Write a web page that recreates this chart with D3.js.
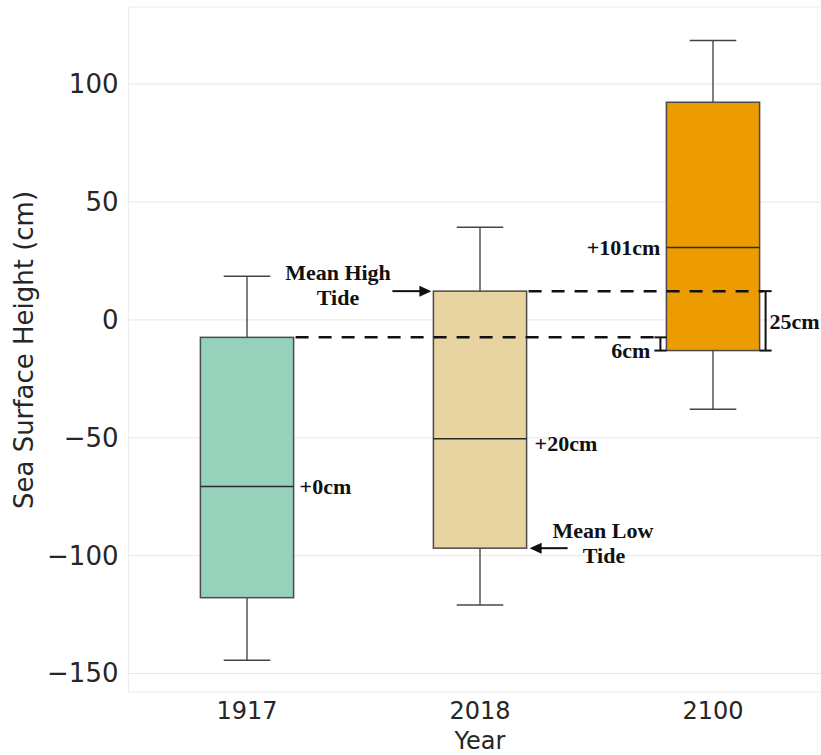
<!DOCTYPE html>
<html>
<head>
<meta charset="utf-8">
<script src="https://cdn.jsdelivr.net/npm/d3@7"></script>
<style>
  html, body { margin: 0; padding: 0; background: #fff; }
  svg { display: block; }
</style>
</head>
<body>
<svg id="chart" width="821" height="755"></svg>
<script>
// Yearly sea surface height distributions (cm)
const years = ["1917", "2018", "2100"];
const whiskerLow  = [-144.3, -120.9, -37.9];
const q1          = [-117.8, -96.8, -13.0];
const median      = [-70.6, -50.4, 30.7];
const q3          = [-7.4, 12.2, 92.3];
const whiskerHigh = [18.5, 39.3, 118.5];
const boxColors   = ["#95d1bb", "#e8d4a1", "#ec9c00"];
const yTicks      = [-150, -100, -50, 0, 50, 100];

const svg = d3.select("#chart");
const plot = { left: 128.5, right: 829.5, top: 7, bottom: 692 };

const x = d3.scaleBand().domain(years).range([130.5, 829.5]).padding(0);
const y = d3.scaleLinear().domain([-157.8, 132.7]).range([plot.bottom, plot.top]);
const boxW = x.bandwidth() * 0.4;
const capW = boxW / 2;
const cx = i => x(years[i]) + x.bandwidth() / 2;

// frame and grid
svg.append("rect")
  .attr("x", plot.left).attr("y", plot.top)
  .attr("width", plot.right - plot.left).attr("height", plot.bottom - plot.top)
  .attr("fill", "none").attr("stroke", "#ececec").attr("stroke-width", 1);

svg.append("g").selectAll("line").data(yTicks).join("line")
  .attr("x1", plot.left).attr("x2", plot.right)
  .attr("y1", d => y(d)).attr("y2", d => y(d))
  .attr("stroke", "#e6e6e6").attr("stroke-width", 1);

// axes
const yAxis = svg.append("g")
  .attr("transform", `translate(${plot.left - 8},0)`)
  .call(d3.axisLeft(y).tickValues(yTicks).tickSize(0).tickPadding(2).tickFormat(d3.format("d")));
yAxis.select(".domain").remove();
yAxis.selectAll("text")
  .attr("font-family", "DejaVu Sans, sans-serif").attr("font-size", 26).attr("fill", "#262626");

const xAxis = svg.append("g")
  .attr("transform", `translate(0,${plot.bottom})`)
  .call(d3.axisBottom(x).tickSize(0).tickPadding(10));
xAxis.select(".domain").remove();
xAxis.selectAll("text")
  .attr("font-family", "DejaVu Sans, sans-serif").attr("font-size", 24).attr("fill", "#262626");

svg.append("text")
  .attr("transform", "translate(33,350) rotate(-90)")
  .attr("text-anchor", "middle")
  .attr("font-family", "DejaVu Sans, sans-serif").attr("font-size", 26).attr("fill", "#262626")
  .text("Sea Surface Height (cm)");

svg.append("text")
  .attr("x", cx(1)).attr("y", 749)
  .attr("text-anchor", "middle")
  .attr("font-family", "DejaVu Sans, sans-serif").attr("font-size", 24).attr("fill", "#262626")
  .text("Year");

// boxes
const idx = d3.range(years.length);
const boxes = svg.append("g").selectAll("g").data(idx).join("g");

boxes.append("line")
  .attr("x1", cx).attr("x2", cx)
  .attr("y1", i => y(q3[i])).attr("y2", i => y(whiskerHigh[i]))
  .attr("stroke", "#555").attr("stroke-width", 1.5);
boxes.append("line")
  .attr("x1", cx).attr("x2", cx)
  .attr("y1", i => y(q1[i])).attr("y2", i => y(whiskerLow[i]))
  .attr("stroke", "#555").attr("stroke-width", 1.5);
boxes.append("line")
  .attr("x1", i => cx(i) - capW / 2).attr("x2", i => cx(i) + capW / 2)
  .attr("y1", i => y(whiskerHigh[i])).attr("y2", i => y(whiskerHigh[i]))
  .attr("stroke", "#444").attr("stroke-width", 1.5);
boxes.append("line")
  .attr("x1", i => cx(i) - capW / 2).attr("x2", i => cx(i) + capW / 2)
  .attr("y1", i => y(whiskerLow[i])).attr("y2", i => y(whiskerLow[i]))
  .attr("stroke", "#444").attr("stroke-width", 1.5);
boxes.append("rect")
  .attr("x", i => cx(i) - boxW / 2).attr("width", boxW)
  .attr("y", i => y(q3[i])).attr("height", i => y(q1[i]) - y(q3[i]))
  .attr("fill", i => boxColors[i]).attr("stroke", "#4a4a4a").attr("stroke-width", 1.5);
boxes.append("line")
  .attr("x1", i => cx(i) - boxW / 2).attr("x2", i => cx(i) + boxW / 2)
  .attr("y1", i => y(median[i])).attr("y2", i => y(median[i]))
  .attr("stroke", "#2b2b2b").attr("stroke-width", 1.5);

// annotations
const serif = "Liberation Serif, Times New Roman, serif";
const ann = svg.append("g")
  .attr("font-family", serif).attr("font-weight", "bold").attr("font-size", 22).attr("fill", "#111");

const shift = i => Math.round(median[i] - median[0]);
ann.append("text").attr("x", cx(0) + boxW / 2 + 6).attr("y", y(median[0]) + 8)
  .text(`+${shift(0)}cm`);
ann.append("text").attr("x", cx(1) + boxW / 2 + 8).attr("y", y(median[1]) + 12)
  .text(`+${shift(1)}cm`);
ann.append("text").attr("x", cx(2) - boxW / 2 - 6).attr("y", y(median[2]) + 7)
  .attr("text-anchor", "end").text(`+${shift(2)}cm`);

// dashed reference levels
const dash = svg.append("g").attr("stroke", "#111").attr("stroke-width", 2.5)
  .attr("stroke-dasharray", "13,10");
dash.append("line")
  .attr("x1", cx(0) + boxW / 2 + 2).attr("x2", cx(2) - boxW / 2 - 8)
  .attr("y1", y(q3[0])).attr("y2", y(q3[0]));
dash.append("line")
  .attr("x1", cx(1) + boxW / 2 + 2).attr("x2", cx(2) + boxW / 2 + 4)
  .attr("y1", y(q3[1])).attr("y2", y(q3[1]));

// brackets
function bracket(xc, v1, v2, w) {
  const g = svg.append("g").attr("stroke", "#111").attr("stroke-width", 2);
  g.append("line").attr("x1", xc).attr("x2", xc).attr("y1", y(v1)).attr("y2", y(v2));
  g.append("line").attr("x1", xc - w / 2).attr("x2", xc + w / 2).attr("y1", y(v1)).attr("y2", y(v1));
  g.append("line").attr("x1", xc - w / 2).attr("x2", xc + w / 2).attr("y1", y(v2)).attr("y2", y(v2));
}
const xb1 = cx(2) - boxW / 2 - 6;
const xb2 = cx(2) + boxW / 2 + 6;
bracket(xb1, q3[0], q1[2], 12);
bracket(xb2, q3[1], q1[2], 12);

ann.append("text").attr("x", xb1 - 10).attr("y", y(q1[2]) + 7)
  .attr("text-anchor", "end").text(`${Math.round(q3[0] - q1[2])}cm`);
ann.append("text").attr("x", xb2 + 4).attr("y", (y(q3[1]) + y(q1[2])) / 2 + 8)
  .text(`${Math.round(q3[1] - q1[2])}cm`);

// tide arrows
function arrow(x1, x2, yy) {
  const dir = Math.sign(x2 - x1);
  svg.append("line").attr("x1", x1).attr("x2", x2 - dir * 9).attr("y1", yy).attr("y2", yy)
    .attr("stroke", "#111").attr("stroke-width", 2);
  svg.append("path")
    .attr("d", `M${x2},${yy} L${x2 - dir * 12},${yy - 5.5} L${x2 - dir * 12},${yy + 5.5} Z`)
    .attr("fill", "#111");
}
const hiY = y(q3[1]);
arrow(cx(1) - boxW / 2 - 41, cx(1) - boxW / 2 - 2, hiY);
ann.append("text").attr("x", 338).attr("y", hiY - 11).attr("text-anchor", "middle").text("Mean High");
ann.append("text").attr("x", 338).attr("y", hiY + 14).attr("text-anchor", "middle").text("Tide");

const loY = y(q1[1]);
arrow(cx(1) + boxW / 2 + 41, cx(1) + boxW / 2 + 3, loY);
ann.append("text").attr("x", 603).attr("y", loY - 10).attr("text-anchor", "middle").text("Mean Low");
ann.append("text").attr("x", 604).attr("y", loY + 15).attr("text-anchor", "middle").text("Tide");
</script>
</body>
</html>
